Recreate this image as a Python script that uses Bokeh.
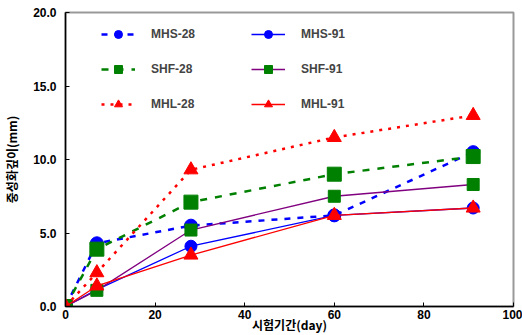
from bokeh.plotting import figure
from bokeh.models import FixedTicker, PrintfTickFormatter, Range1d, Legend
from bokeh.embed import file_html
from bokeh.resources import INLINE

days = [0, 7, 28, 60, 91]
mhs_28 = [0.0, 4.3, 5.5, 6.2, 10.5]
shf_28 = [0.0, 3.9, 7.1, 9.0, 10.2]
mhl_28 = [0.0, 2.3, 9.3, 11.5, 13.0]
mhs_91 = [0.0, 1.15, 4.1, 6.2, 6.7]
shf_91 = [0.0, 1.1, 5.2, 7.5, 8.3]
mhl_91 = [0.0, 1.4, 3.5, 6.2, 6.7]
x_ticks = [0, 20, 40, 60, 80, 100]
y_ticks = [0, 5, 10, 15, 20]
x_title = "시험기간(day)"
y_title = "중성화깊이(mm)"

p = figure(width=522, height=335, output_backend="svg", toolbar_location=None,
           x_range=Range1d(0, 100), y_range=Range1d(0, 20),
           min_border_left=10, min_border_top=12, min_border_right=9, min_border_bottom=10)
p.xgrid.visible = False
p.ygrid.visible = False
p.outline_line_color = "#999999"
p.outline_line_width = 2

FONT = "Liberation Sans"
for ax in (p.xaxis[0], p.yaxis[0]):
    ax.axis_line_color = "black"
    ax.axis_line_width = 1.5
    ax.major_tick_in = 4
    ax.major_tick_out = 0
    ax.minor_tick_in = 0
    ax.minor_tick_out = 0
    ax.major_tick_line_color = "black"
    ax.major_label_text_font = FONT
    ax.major_label_text_font_style = "bold"
    ax.major_label_text_font_size = "12px"
    ax.major_label_text_color = "black"
    ax.axis_label_text_font = "Noto Sans CJK KR"
    ax.axis_label_text_font_style = "bold"
    ax.axis_label_text_font_size = "12px"
    ax.axis_label_text_color = "black"

p.xaxis.ticker = FixedTicker(ticks=x_ticks)
p.yaxis.ticker = FixedTicker(ticks=y_ticks)
p.yaxis.formatter = PrintfTickFormatter(format="%.1f")
p.xaxis.axis_label = x_title
p.yaxis.axis_label = y_title
p.yaxis.major_label_standoff = 9
p.yaxis.axis_label_standoff = 10
p.xaxis.major_label_standoff = 3
p.xaxis.axis_label_standoff = -6

items = []
def series(ys, label, line_color, dash, lw, marker, mcolor, msize):
    r1 = p.line(days, ys, line_color=line_color, line_dash=dash, line_width=lw)
    r2 = p.scatter(days, ys, marker=marker, size=msize, fill_color=mcolor, line_color=mcolor)
    items.append((label, [r1, r2]))

series(mhs_28, "MHS-28", "#0000FF", "6 7", 2.5, "circle", "#0000FF", 13)
series(shf_28, "SHF-28", "#008000", "7 8", 2.5, "square", "#008000", 14)
series(mhl_28, "MHL-28", "#FF0000", "3 6", 2.5, "triangle", "#FF0000", 14)
series(mhs_91, "MHS-91", "#0000FF", "solid", 1.3, "circle", "#0000FF", 12)
series(shf_91, "SHF-91", "#800080", "solid", 1.3, "square", "#008000", 12)
series(mhl_91, "MHL-91", "#FF0000", "solid", 1.3, "triangle", "#FF0000", 14)

legend = Legend(items=items, ncols=2, location=(36, 192), orientation="vertical",
                border_line_color=None, background_fill_alpha=0,
                label_text_font=FONT, label_text_font_style="bold", label_text_font_size="12px",
                glyph_width=34, glyph_height=20, label_standoff=16, label_width=85,
                spacing=15, padding=0, margin=0, label_height=20)
p.add_layout(legend)

open("out.html", "w").write(file_html(p, INLINE))
